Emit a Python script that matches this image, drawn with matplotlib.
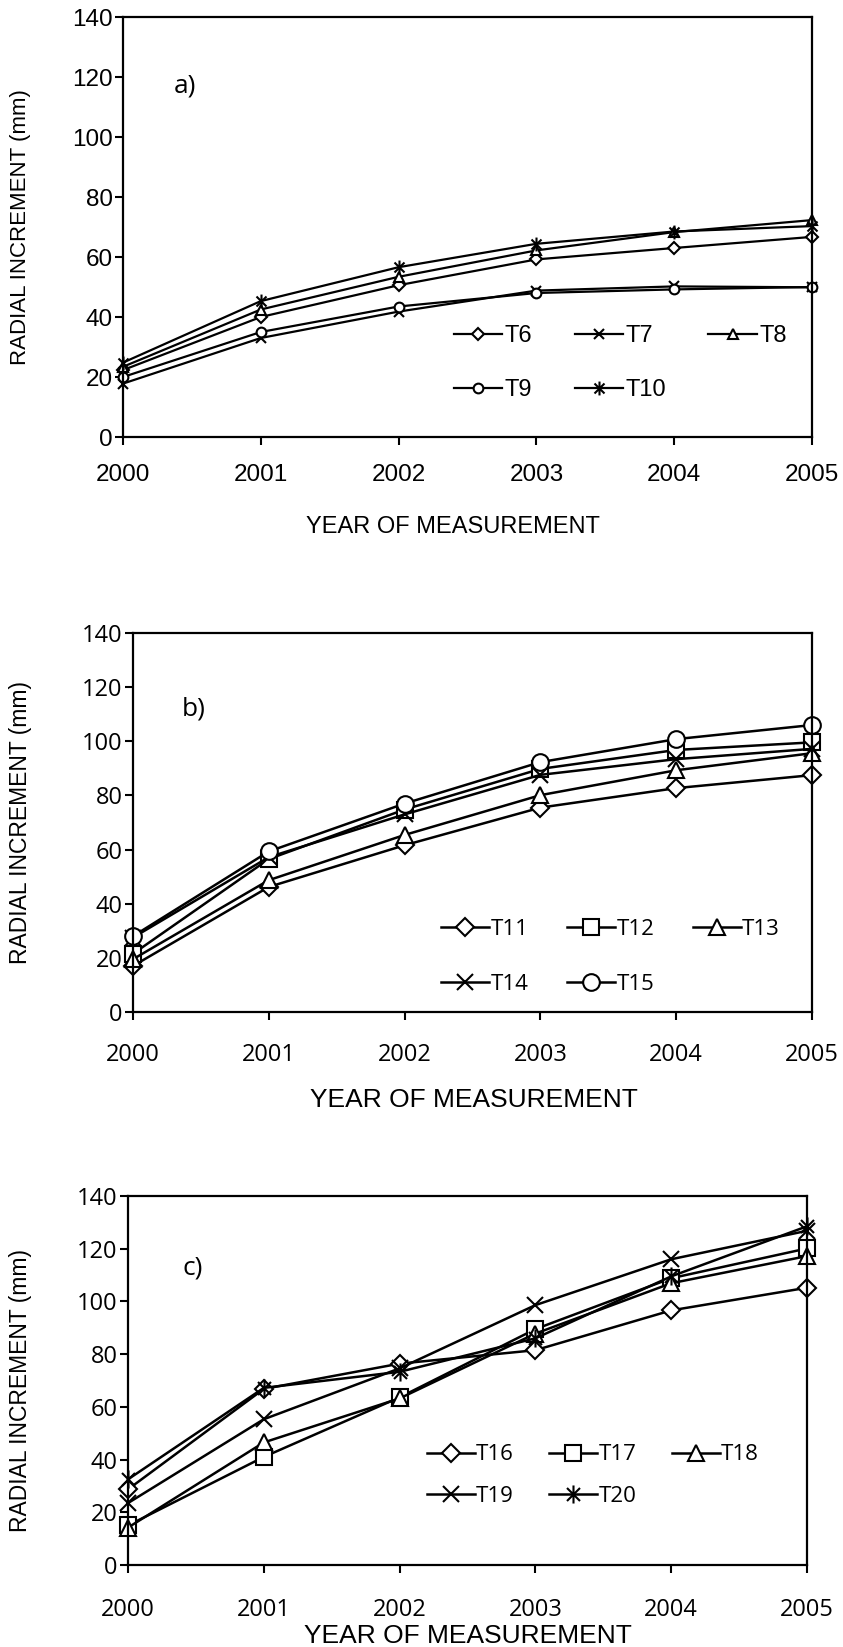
import matplotlib
matplotlib.use("Agg")
import matplotlib.pyplot as plt
from matplotlib.path import Path

# ---- data -------------------------------------------------------------
years = ["2000", "2001", "2002", "2003", "2004", "2005"]
y_ticks = [0, 20, 40, 60, 80, 100, 120, 140]

# panel a)
labels_a = ["T6", "T7", "T8", "T9", "T10"]
t6 = [22.3, 40.0, 50.6, 59.2, 63.0, 66.7]
t7 = [17.8, 33.0, 41.8, 48.8, 50.2, 49.9]
t8 = [23.4, 42.5, 53.4, 62.2, 68.3, 72.3]
t9 = [20.0, 35.0, 43.5, 48.0, 49.2, 50.0]
t10 = [24.8, 45.3, 56.6, 64.4, 68.5, 70.3]

# panel b)
labels_b = ["T11", "T12", "T13", "T14", "T15"]
t11 = [17.0, 46.2, 61.6, 75.5, 82.7, 87.5]
t12 = [21.5, 56.5, 74.8, 89.8, 96.8, 99.6]
t13 = [19.5, 48.7, 65.4, 80.1, 89.3, 95.6]
t14 = [27.5, 57.2, 73.0, 87.6, 93.4, 97.2]
t15 = [28.0, 59.3, 77.0, 92.3, 100.8, 106.0]

# panel c)
labels_c = ["T16", "T17", "T18", "T19", "T20"]
t16 = [28.7, 66.8, 76.4, 81.5, 96.6, 105.2]
t17 = [15.0, 41.0, 63.6, 89.5, 108.8, 120.1]
t18 = [14.2, 46.5, 63.2, 87.8, 106.9, 117.2]
t19 = [23.5, 55.3, 74.6, 98.6, 116.0, 126.8]
t20 = [32.5, 67.2, 73.3, 86.0, 109.5, 128.5]

# ---- style ------------------------------------------------------------
ARIAL = ["Liberation Sans", "DejaVu Sans"]
HUMAN = ["Open Sans", "DejaVu Sans"]

# asterisk marker: a vertical bar plus a diagonal cross
d = 0.72
ASTER = Path(
    [(0, -1), (0, 1), (-d, -d), (d, d), (-d, d), (d, -d)],
    [Path.MOVETO, Path.LINETO, Path.MOVETO, Path.LINETO, Path.MOVETO, Path.LINETO],
)

W, H = 843, 1647
fig = plt.figure(figsize=(W / 100, H / 100), dpi=100)


def px_rect(left, top, right, bottom):
    return [left / W, 1 - bottom / H, (right - left) / W, (bottom - top) / H]


def panel(rect, series, labels, markers, sizes, tag, tick_font, tick_size,
          xpad, lw, legend_kw, tag_xy, tag_size):
    ax = fig.add_axes(px_rect(*rect))
    x = range(len(years))
    for vals, lab, mk, ms in zip(series, labels, markers, sizes):
        ax.plot(x, vals, color="black", lw=lw, marker=mk, ms=ms,
                mfc="white", mec="black", mew=1.5, label=lab, clip_on=False)
    ax.set_xlim(0, len(years) - 1)
    ax.set_ylim(0, 140)
    ax.set_xticks(list(x))
    ax.set_xticklabels(years, family=tick_font, fontsize=tick_size)
    ax.set_yticks(y_ticks)
    ax.set_yticklabels([str(v) for v in y_ticks], family=tick_font,
                       fontsize=tick_size)
    ax.tick_params(axis="both", direction="out", length=6, width=1.5,
                   colors="black")
    ax.tick_params(axis="x", pad=xpad)
    ax.tick_params(axis="y", pad=1.5)
    for sp in ax.spines.values():
        sp.set_linewidth(1.6)
        sp.set_color("black")
    ax.text(tag_xy[0], tag_xy[1], tag, transform=ax.transAxes,
            family=HUMAN, fontsize=tag_size, ha="center", va="center")

    # row-major legend order for a 3-column, 2-row layout
    h, l = ax.get_legend_handles_labels()
    order = [0, 3, 1, 4, 2]
    ax.legend([h[i] for i in order], [l[i] for i in order], ncol=3,
              frameon=False, loc="upper left", borderpad=0,
              borderaxespad=0, **legend_kw)
    return ax


# panel a)
panel((123, 17, 812, 437), [t6, t7, t8, t9, t10], labels_a,
      ["D", "x", "^", "o", ASTER], [6, 7, 7, 7, 10], "a)", ARIAL, 17.5,
      13.5, 1.6,
      dict(bbox_to_anchor=(0.48, 0.267), prop={"family": ARIAL, "size": 17},
           handlelength=2.05, handletextpad=0.1, columnspacing=1.8,
           labelspacing=1.36),
      (0.09, 0.835), 19)

# panel b)
panel((133, 633, 812, 1012), [t11, t12, t13, t14, t15], labels_b,
      ["D", "s", "^", "x", "o"], [9, 11, 11, 11, 12], "b)", HUMAN, 17,
      16, 1.8,
      dict(bbox_to_anchor=(0.454, 0.245), prop={"family": HUMAN, "size": 16},
           handlelength=2.16, handletextpad=0.05, columnspacing=1.75,
           labelspacing=1.53),
      (0.09, 0.8), 19)

# panel c)
panel((128, 1196, 807, 1565), [t16, t17, t18, t19, t20], labels_c,
      ["D", "s", "^", "x", ASTER], [9, 11, 11, 11, 13], "c)", HUMAN, 17,
      18, 1.8,
      dict(bbox_to_anchor=(0.44, 0.327), prop={"family": HUMAN, "size": 16},
           handlelength=2.16, handletextpad=0.05, columnspacing=1.6,
           labelspacing=0.93),
      (0.095, 0.806), 19)


def fig_text(xp, yp, s, size, rot=0):
    fig.text(xp / W, 1 - yp / H, s, family=ARIAL, fontsize=size,
             ha="center", va="center", rotation=rot)


fig_text(453, 527, "YEAR OF MEASUREMENT", 17)
fig_text(21, 227, "RADIAL INCREMENT (mm)", 16, 90)
fig_text(474, 1100, "YEAR OF MEASUREMENT", 19)
fig_text(21, 823, "RADIAL INCREMENT (mm)", 16.5, 90)
fig_text(468, 1636, "YEAR OF MEASUREMENT", 19)
fig_text(21, 1390, "RADIAL INCREMENT (mm)", 16.5, 90)

fig.savefig("out.png", dpi=100, facecolor="white")
